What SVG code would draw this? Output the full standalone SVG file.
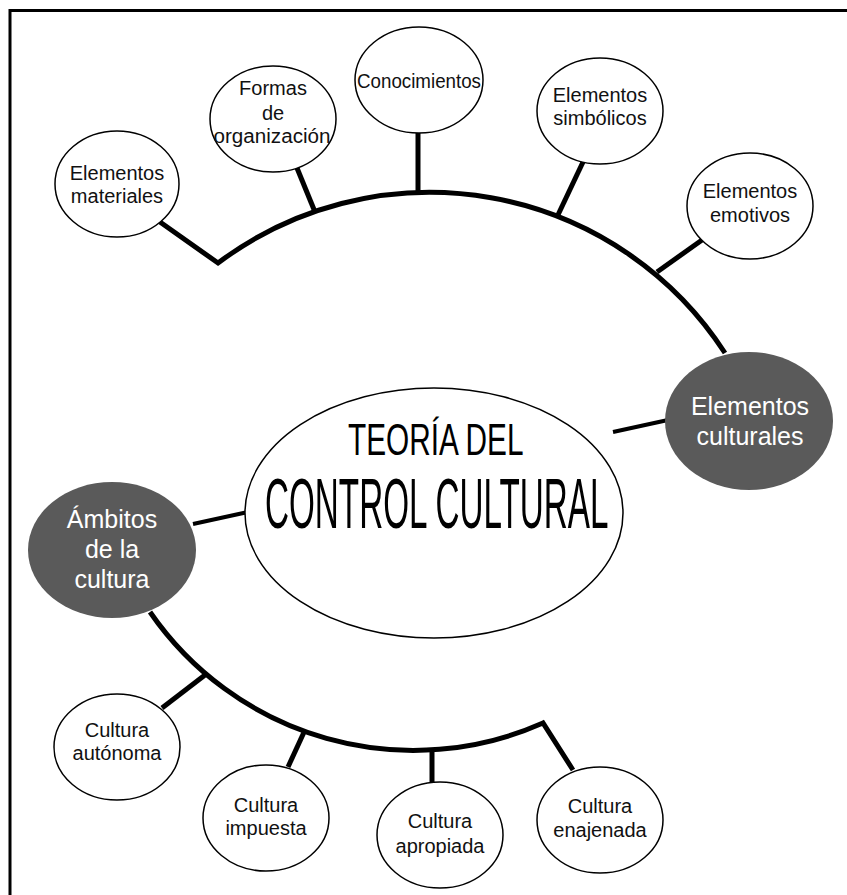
<svg xmlns="http://www.w3.org/2000/svg" width="847" height="895" viewBox="0 0 847 895">
  <style>
    .frame { fill: none; stroke: #000; stroke-width: 3; }
    .wire { fill: none; stroke: #000; stroke-width: 5; stroke-linejoin: miter; }
    .thin { fill: none; stroke: #000; stroke-width: 4; }
    .bubble { fill: #fff; stroke: #000; stroke-width: 1.5; }
    .hub { fill: #5a5a5a; stroke: none; }
    .lbl { font-family: "Liberation Sans", Arial, sans-serif; font-size: 20px; fill: #111; text-anchor: middle; }
    .hublbl { font-family: "Liberation Sans", Arial, sans-serif; font-size: 25px; fill: #fff; text-anchor: middle; }
    .title { font-family: "Liberation Sans", Arial, sans-serif; fill: #000; }
  </style>

  <!-- open frame: top and left edges only -->
  <path class="frame" d="M10,895 V10.5 H847"/>

  <g id="connectors">
    <!-- upper arc with its branches -->
    <path class="wire" d="M160,222 L218,263 A352,352 0 0 1 725,353"/>
    <line class="wire" x1="297" y1="168" x2="315" y2="212"/>
    <line class="wire" x1="418" y1="133" x2="418" y2="193"/>
    <line class="wire" x1="583" y1="162" x2="557" y2="217"/>
    <line class="wire" x1="702" y1="240" x2="657" y2="272"/>
    <!-- lower arc with its branches -->
    <path class="wire" d="M150,612 A320,320 0 0 0 543,723 L573,770"/>
    <line class="wire" x1="162" y1="708" x2="205" y2="675"/>
    <line class="wire" x1="288" y1="767" x2="305" y2="730"/>
    <line class="wire" x1="432" y1="750" x2="432" y2="782"/>
    <!-- links between the centre and the two hubs -->
    <line class="thin" x1="613" y1="432" x2="668" y2="420"/>
    <line class="thin" x1="193" y1="524" x2="248" y2="512"/>
  </g>

  <g id="centro">
    <ellipse class="bubble" cx="434" cy="513" rx="189" ry="125"/>
    <!-- condensed title: regular face squeezed horizontally -->
    <text class="title" font-size="45" transform="translate(348,455) scale(0.662,1)">TEORÍA DEL</text>
    <text class="title" font-size="70" transform="translate(265,528) scale(0.475,1)">CONTROL CULTURAL</text>
  </g>

  <g id="elementos-culturales">
    <ellipse class="hub" cx="749" cy="421" rx="84" ry="69"/>
    <text class="hublbl" x="750" y="415">Elementos</text>
    <text class="hublbl" x="750" y="445">culturales</text>
  </g>

  <g id="ambitos-cultura">
    <ellipse class="hub" cx="112" cy="550" rx="84" ry="68"/>
    <text class="hublbl" x="112" y="528">Ámbitos</text>
    <text class="hublbl" x="112" y="558">de la</text>
    <text class="hublbl" x="112" y="588">cultura</text>
  </g>

  <g id="elementos-materiales">
    <ellipse class="bubble" cx="117" cy="184" rx="62" ry="53"/>
    <text class="lbl" x="117" y="180">Elementos</text>
    <text class="lbl" x="117" y="203">materiales</text>
  </g>

  <g id="formas-organizacion">
    <ellipse class="bubble" cx="273" cy="119" rx="63" ry="53"/>
    <text class="lbl" x="273" y="95">Formas</text>
    <text class="lbl" x="273" y="120">de</text>
    <text class="lbl" x="272" y="143" textLength="117" lengthAdjust="spacingAndGlyphs">organización</text>
  </g>

  <g id="conocimientos">
    <ellipse class="bubble" cx="419" cy="80" rx="64" ry="53"/>
    <text class="lbl" x="419" y="88" textLength="124" lengthAdjust="spacingAndGlyphs">Conocimientos</text>
  </g>

  <g id="elementos-simbolicos">
    <ellipse class="bubble" cx="600" cy="111" rx="63" ry="53"/>
    <text class="lbl" x="600" y="102">Elementos</text>
    <text class="lbl" x="600" y="125">simbólicos</text>
  </g>

  <g id="elementos-emotivos">
    <ellipse class="bubble" cx="750" cy="206" rx="63" ry="53"/>
    <text class="lbl" x="750" y="198">Elementos</text>
    <text class="lbl" x="750" y="222">emotivos</text>
  </g>

  <g id="cultura-autonoma">
    <ellipse class="bubble" cx="117" cy="747" rx="63" ry="53"/>
    <text class="lbl" x="117" y="737">Cultura</text>
    <text class="lbl" x="117" y="760">autónoma</text>
  </g>

  <g id="cultura-impuesta">
    <ellipse class="bubble" cx="266" cy="818" rx="63" ry="53"/>
    <text class="lbl" x="266" y="812">Cultura</text>
    <text class="lbl" x="266" y="835">impuesta</text>
  </g>

  <g id="cultura-apropiada">
    <ellipse class="bubble" cx="440" cy="835" rx="63" ry="53"/>
    <text class="lbl" x="440" y="828">Cultura</text>
    <text class="lbl" x="440" y="853">apropiada</text>
  </g>

  <g id="cultura-enajenada">
    <ellipse class="bubble" cx="600" cy="820" rx="63" ry="53"/>
    <text class="lbl" x="600" y="813">Cultura</text>
    <text class="lbl" x="600" y="837">enajenada</text>
  </g>
</svg>
